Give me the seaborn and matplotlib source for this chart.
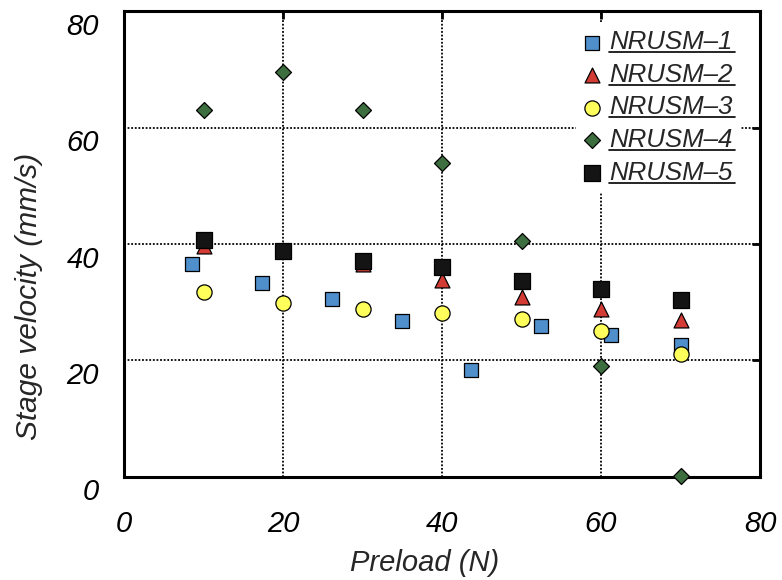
import pandas as pd
import matplotlib
matplotlib.use("Agg")
import matplotlib.pyplot as plt
import seaborn as sns
from matplotlib.lines import Line2D
from matplotlib.transforms import ScaledTranslation

# Values
preload_1 = [8.5, 17.3, 26.1, 34.9, 43.7, 52.5, 61.3, 70.1]
preload = [10, 20, 30, 40, 50, 60, 70]
velocity_1 = [36.6, 33.3, 30.5, 26.7, 18.3, 25.9, 24.3, 22.6]
velocity_2 = [39.6, 39.0, 36.5, 33.8, 30.9, 28.8, 27.0]
velocity_3 = [31.8, 29.9, 28.8, 28.2, 27.1, 25.0, 21.1]
velocity_4 = [63.0, 69.5, 63.0, 53.9, 40.6, 19.0, 0.2]
velocity_5 = [40.7, 38.8, 37.1, 36.1, 33.6, 32.3, 30.4]

names = ["NRUSM\u20131", "NRUSM\u20132", "NRUSM\u20133", "NRUSM\u20134", "NRUSM\u20135"]
colors = ["#4f8fcc", "#d33b35", "#ffff5c", "#3d6e3f", "#141414"]
markers = ["s", "^", "o", "D", "s"]
sizes = [110, 115, 120, 66, 120]

frames = [
    pd.DataFrame({"preload": preload_1, "velocity": velocity_1}),
    pd.DataFrame({"preload": preload, "velocity": velocity_2}),
    pd.DataFrame({"preload": preload, "velocity": velocity_3}),
    pd.DataFrame({"preload": preload, "velocity": velocity_4}),
    pd.DataFrame({"preload": preload, "velocity": velocity_5}),
]

sns.set_style("white")
plt.rcParams["font.family"] = ["Liberation Sans", "DejaVu Sans"]
plt.rcParams["font.style"] = "italic"

fig = plt.figure(figsize=(7.82, 5.8), dpi=100)
ax = fig.add_axes([0.1586, 0.1776, 0.8134, 0.8034])

for df, name, c, m, s in zip(frames, names, colors, markers, sizes):
    sns.scatterplot(data=df, x="preload", y="velocity", ax=ax, color=c,
                    marker=m, s=s, edgecolor="black", linewidth=0.9,
                    label=name, clip_on=False, zorder=3)

ax.set_xlim(0, 80)
ax.set_ylim(0, 80)
ax.set_xticks([0, 20, 40, 60, 80])
ax.set_yticks([0, 20, 40, 60, 80])

ax.grid(True, color="black", linestyle=(0, (1, 1)), linewidth=1.3)
for sp in ax.spines.values():
    sp.set_color("black")
    sp.set_linewidth(2.2)

ax.tick_params(direction="in", length=6, width=2, top=True, right=True,
               labelsize=21, colors="black")
ax.tick_params(axis="x", pad=24)
ax.tick_params(axis="y", pad=18)
for lab in ax.get_yticklabels():
    lab.set_transform(lab.get_transform() + ScaledTranslation(0, -9 / 72, fig.dpi_scale_trans))

ax.set_xlabel("Preload (N)", fontsize=21)
ax.set_ylabel("Stage velocity (mm/s)", fontsize=21.5)
ax.xaxis.set_label_coords(0.473, -0.155)
ax.yaxis.set_label_coords(-0.128, 0.388)

leg = ax.legend(loc="upper left", bbox_to_anchor=(0.71, 0.975), fontsize=18.6,
                frameon=True, facecolor="white", edgecolor="white", framealpha=1,
                fancybox=False, borderpad=0.3, labelspacing=0.33,
                handlelength=0.7, handletextpad=0.3, borderaxespad=0)
leg.set_zorder(5)

# underline the legend entries
fig.canvas.draw()
inv = fig.transFigure.inverted()
for t in leg.get_texts():
    bb = t.get_window_extent()
    (x0, y0), (x1, _) = inv.transform([(bb.x0, bb.y0 + 2), (bb.x1 + 2, bb.y0 + 2)])
    fig.add_artist(Line2D([x0, x1], [y0, y0], color="black", linewidth=1.2, zorder=10))

fig.savefig("out.png", dpi=100)
